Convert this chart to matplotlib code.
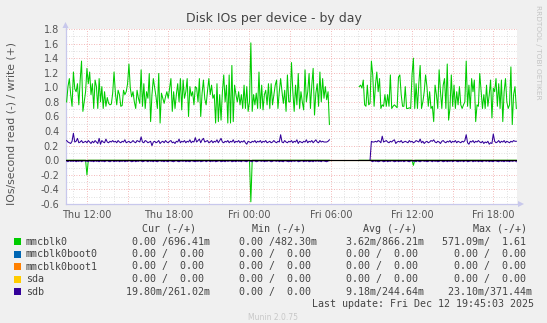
import numpy as np
import matplotlib
matplotlib.use("Agg")
import matplotlib.pyplot as plt
from matplotlib.patches import Polygon, Rectangle
from matplotlib.ticker import FixedLocator, FixedFormatter, MultipleLocator

nan = float("nan")

# ---------------- data ----------------
start_hour = 10.5      # Thu 10:30 (hours since Thu 00:00)
step_hours = 0.1       # 6-minute samples
last_update_hour = 43.75
span_hours = 100.0 / 3.0

tick_hours = [12, 15, 18, 21, 24, 27, 30, 33, 36, 39, 42]
tick_labels = ["Thu 12:00", "", "Thu 18:00", "", "Fri 00:00", "",
               "Fri 06:00", "", "Fri 12:00", "", "Fri 18:00"]

mmcblk0_write = [
    0.80, 1.01, 1.12, 0.90, 0.74,
    1.21, 0.98, 0.94, 1.05, 0.76, 1.10, 1.36, 0.67, 0.80, 0.94,
    1.26, 1.05, 1.21, 0.90, 1.05, 0.71, 1.10, 1.01, 0.71, 1.12,
    0.80, 1.01, 0.71, 0.94, 0.74, 0.86, 0.78, 0.76, 0.77, 0.92,
    1.21, 0.92, 0.76, 0.96, 0.90, 0.74, 0.75, 0.96, 0.90, 0.94,
    1.05, 1.32, 0.99, 0.87, 0.94, 0.80, 0.71, 0.96, 0.85, 0.78,
    1.24, 0.74, 1.05, 0.71, 0.94, 0.85, 1.19, 0.53, 0.90, 1.12,
    0.99, 0.87, 0.71, 1.19, 0.51, 0.92, 0.85, 0.78, 0.87, 0.94,
    0.85, 0.98, 1.12, 0.67, 0.94, 0.71, 0.90, 1.05, 0.80, 1.12,
    0.69, 1.10, 0.85, 0.94, 1.12, 0.60, 1.01, 0.88, 0.94, 0.76,
    1.01, 0.99, 0.80, 1.12, 0.60, 0.92, 1.10, 0.84, 0.76, 0.95,
    1.12, 0.90, 1.03, 0.85, 0.90, 0.51, 1.05, 0.53, 0.90, 0.55,
    0.94, 1.17, 0.80, 1.03, 0.51, 1.17, 0.51, 1.30, 0.53, 1.03,
    0.90, 0.80, 0.94, 0.76, 0.90, 0.71, 1.03, 0.71, 1.01, 0.67,
    0.80, 1.61, 0.67, 0.90, 0.76, 0.92, 0.71, 1.21, 0.71, 1.03,
    0.69, 0.90, 0.96, 0.76, 1.05, 0.71, 1.05, 0.76, 0.90, 1.03,
    1.10, 0.71, 0.94, 1.12, 0.94, 0.78, 0.96, 0.67, 1.17, 0.80,
    0.80, 1.34, 0.94, 0.67, 1.03, 0.76, 1.19, 0.71, 0.94, 0.80,
    0.69, 1.24, 0.80, 0.94, 1.19, 0.71, 1.03, 1.26, 0.62, 0.92,
    1.05, 0.74, 1.21, 0.80, 1.12, 0.85, 1.01, 0.83, 0.94, 0.49,
] + [nan] * 21 + [
    1.01, 1.03, 0.99, 1.10, 0.76, 0.74, 1.03, 0.76, 0.78,
    1.36, 1.17, 0.74, 1.03, 1.21, 0.94, 1.12, 0.71, 0.76, 0.74,
    0.90, 0.74, 0.90, 0.74, 1.17, 0.71, 0.74, 0.76, 0.74, 0.72,
    1.14, 1.17, 0.90, 0.74, 0.74, 1.01, 0.71, 0.71, 0.72, 0.71,
    1.17, 1.40, 0.71, 1.05, 0.71, 1.05, 1.30, 0.71, 0.80, 0.94,
    1.17, 1.01, 0.74, 0.94, 0.71, 0.74, 0.53, 1.03, 0.90, 0.71,
    1.24, 0.94, 0.71, 1.03, 1.12, 0.71, 1.32, 0.55, 0.71, 1.17,
    0.74, 1.03, 0.71, 0.94, 0.76, 1.01, 0.76, 0.71, 0.76, 0.80,
    1.36, 0.74, 1.03, 0.71, 1.12, 0.94, 1.10, 0.53, 0.76, 0.74,
    1.19, 0.94, 0.71, 0.90, 0.71, 1.03, 0.74, 0.90, 1.10, 0.58,
    0.99, 0.94, 1.12, 0.74, 1.05, 0.71, 1.10, 0.53, 0.94, 1.12,
    0.80, 0.71, 0.76, 1.28, 0.49, 0.90, 1.01, 0.71,
]

mmcblk0_read = ([0.0] * 15 + [-0.20] + [0.0] * 120 + [-0.57] + [0.0] * 58
                + [nan] * 21 + [0.0] * 40 + [-0.07] + [0.0] * 76)

sdb_write = [
    0.27, 0.25, 0.24, 0.23, 0.26,
    0.37, 0.25, 0.26, 0.30, 0.24, 0.25, 0.27, 0.24, 0.25, 0.26,
    0.24, 0.27, 0.25, 0.23, 0.26, 0.24, 0.27, 0.25, 0.23, 0.30,
    0.22, 0.27, 0.25, 0.24, 0.29, 0.25, 0.24, 0.26, 0.25, 0.27,
    0.25, 0.26, 0.24, 0.27, 0.25, 0.24, 0.26, 0.25, 0.28, 0.24,
    0.25, 0.26, 0.24, 0.25, 0.27, 0.25, 0.24, 0.27, 0.26, 0.25,
    0.32, 0.25, 0.24, 0.27, 0.26, 0.24, 0.25, 0.26, 0.20, 0.25,
    0.26, 0.24, 0.25, 0.27, 0.23, 0.25, 0.26, 0.24, 0.27, 0.25,
    0.24, 0.26, 0.27, 0.24, 0.25, 0.23, 0.26, 0.25, 0.29, 0.24,
    0.26, 0.25, 0.27, 0.24, 0.26, 0.25, 0.28, 0.24, 0.26, 0.25,
    0.31, 0.25, 0.27, 0.29, 0.24, 0.28, 0.30, 0.25, 0.26, 0.27,
    0.24, 0.25, 0.27, 0.24, 0.26, 0.25, 0.28, 0.24, 0.27, 0.30,
    0.25, 0.24, 0.26, 0.25, 0.27, 0.24, 0.26, 0.25, 0.28, 0.24,
    0.26, 0.25, 0.27, 0.24, 0.26, 0.25, 0.27, 0.24, 0.22, 0.26,
    0.25, 0.24, 0.26, 0.25, 0.27, 0.24, 0.26, 0.25, 0.27, 0.24,
    0.26, 0.25, 0.27, 0.24, 0.25, 0.26, 0.24, 0.25, 0.27, 0.25,
    0.24, 0.26, 0.25, 0.35, 0.25, 0.24, 0.27, 0.25, 0.24, 0.26,
    0.25, 0.27, 0.24, 0.26, 0.25, 0.28, 0.23, 0.26, 0.25, 0.24,
    0.26, 0.25, 0.28, 0.24, 0.26, 0.25, 0.27, 0.24, 0.26, 0.28,
    0.25, 0.24, 0.27, 0.25, 0.26, 0.25, 0.25, 0.25, 0.26, 0.28,
] + [nan] * 29 + [0.0] + [
    0.26, 0.25, 0.25, 0.26, 0.25, 0.27, 0.26, 0.24, 0.33, 0.25,
    0.26, 0.27, 0.25, 0.24, 0.26, 0.25, 0.27, 0.28, 0.23, 0.25,
    0.26, 0.25, 0.27, 0.24, 0.25, 0.26, 0.25, 0.24, 0.27, 0.25,
    0.26, 0.24, 0.25, 0.27, 0.26, 0.25, 0.29, 0.24, 0.26, 0.23,
    0.25, 0.26, 0.24, 0.25, 0.27, 0.26, 0.28, 0.25, 0.24, 0.26,
    0.25, 0.23, 0.26, 0.27, 0.25, 0.24, 0.26, 0.25, 0.27, 0.24,
    0.26, 0.25, 0.27, 0.24, 0.26, 0.25, 0.24, 0.26, 0.25, 0.27,
    0.35, 0.24, 0.22, 0.26, 0.25, 0.27, 0.24, 0.26, 0.25, 0.27,
    0.25, 0.24, 0.26, 0.23, 0.25, 0.24, 0.26, 0.22, 0.24, 0.23,
    0.36, 0.26, 0.24, 0.25, 0.27, 0.24, 0.26, 0.25, 0.27, 0.24,
    0.26, 0.25, 0.24, 0.26, 0.25, 0.27, 0.26, 0.26,
]

sdb_read = [
    -0.010, -0.020, -0.005, -0.015, -0.010,
    -0.015, -0.005, -0.020, -0.010, -0.015, -0.005, -0.020, -0.010, -0.005, -0.015,
    -0.010, -0.020, -0.005, -0.015, -0.010, -0.020, -0.005, -0.015, -0.010, -0.020,
    -0.005, -0.015, -0.010, -0.020, -0.010, -0.005, -0.015, -0.020, -0.010, -0.005,
    -0.020, -0.010, -0.015, -0.005, -0.020, -0.010, -0.015, -0.005, -0.020, -0.010,
    -0.015, -0.005, -0.010, -0.020, -0.015, -0.005, -0.020, -0.010, -0.015, -0.005,
    -0.010, -0.020, -0.015, -0.005, -0.010, -0.020, -0.005, -0.015, -0.010, -0.020,
    -0.005, -0.015, -0.020, -0.010, -0.005, -0.015, -0.010, -0.020, -0.005, -0.015,
    -0.020, -0.005, -0.010, -0.015, -0.020, -0.010, -0.005, -0.015, -0.020, -0.010,
    -0.010, -0.015, -0.005, -0.020, -0.010, -0.015, -0.020, -0.005, -0.010, -0.015,
    -0.020, -0.010, -0.015, -0.005, -0.020, -0.015, -0.010, -0.005, -0.020, -0.010,
    -0.005, -0.020, -0.010, -0.015, -0.005, -0.020, -0.015, -0.010, -0.005, -0.020,
    -0.015, -0.010, -0.020, -0.005, -0.015, -0.010, -0.005, -0.020, -0.015, -0.010,
    -0.020, -0.005, -0.015, -0.010, -0.020, -0.005, -0.010, -0.015, -0.020, -0.005,
    -0.010, -0.015, -0.020, -0.005, -0.010, -0.020, -0.015, -0.005, -0.010, -0.015,
    -0.005, -0.020, -0.010, -0.015, -0.005, -0.010, -0.020, -0.015, -0.005, -0.010,
    -0.015, -0.005, -0.020, -0.010, -0.015, -0.020, -0.005, -0.010, -0.015, -0.020,
    -0.010, -0.020, -0.005, -0.015, -0.010, -0.005, -0.020, -0.015, -0.010, -0.005,
    -0.020, -0.010, -0.015, -0.005, -0.020, -0.015, -0.010, -0.020, -0.005, -0.015,
    -0.005, -0.015, -0.010, -0.020, -0.005, -0.010, -0.015, -0.020, -0.010, -0.005,
] + [nan] * 29 + [0.0] + [
    -0.010, -0.020, -0.005, -0.015, -0.010, -0.020, -0.015, -0.005, -0.010, -0.020,
    -0.015, -0.005, -0.020, -0.010, -0.015, -0.005, -0.010, -0.020, -0.015, -0.005,
    -0.020, -0.010, -0.015, -0.005, -0.020, -0.010, -0.005, -0.015, -0.020, -0.010,
    -0.005, -0.015, -0.010, -0.020, -0.005, -0.015, -0.020, -0.010, -0.005, -0.015,
    -0.010, -0.020, -0.015, -0.005, -0.010, -0.020, -0.005, -0.015, -0.010, -0.020,
    -0.015, -0.005, -0.010, -0.020, -0.015, -0.005, -0.020, -0.010, -0.015, -0.005,
    -0.020, -0.010, -0.005, -0.015, -0.020, -0.010, -0.015, -0.005, -0.020, -0.010,
    -0.005, -0.020, -0.015, -0.010, -0.005, -0.020, -0.010, -0.015, -0.005, -0.020,
    -0.010, -0.015, -0.020, -0.005, -0.010, -0.015, -0.005, -0.020, -0.010, -0.015,
    -0.020, -0.005, -0.010, -0.015, -0.020, -0.005, -0.015, -0.010, -0.020, -0.005,
    -0.015, -0.010, -0.020, -0.005, -0.015, -0.010, -0.005, -0.020,
]

n_samples = len(mmcblk0_write)
zero_series = [0.0] * n_samples   # mmcblk0boot0 / mmcblk0boot1 / sda are flat at 0

device_names = ["mmcblk0", "mmcblk0boot0", "mmcblk0boot1", "sda", "sdb"]
device_colors = ["#00CC00", "#0066B3", "#FF8000", "#FFCC00", "#330099"]

cur_text = ["  0.00 /696.41m", "  0.00 /  0.00", "  0.00 /  0.00", "  0.00 /  0.00", " 19.80m/261.02m"]
min_text = ["  0.00 /482.30m", "  0.00 /  0.00", "  0.00 /  0.00", "  0.00 /  0.00", "  0.00 /  0.00"]
avg_text = ["  3.62m/866.21m", "  0.00 /  0.00", "  0.00 /  0.00", "  0.00 /  0.00", "  9.18m/244.64m"]
max_text = ["571.09m/  1.61", "  0.00 /  0.00", "  0.00 /  0.00", "  0.00 /  0.00", " 23.10m/371.44m"]

# ---------------- figure ----------------
W, H = 547, 323
fig = plt.figure(figsize=(W / 100, H / 100), dpi=100, facecolor="#F0F0F0")


def fx(x):
    return x / W


def fy(y):
    return 1 - y / H


ax_l, ax_r, ax_t, ax_b = 65.5, 517.0, 29.0, 204.0
ax = fig.add_axes([fx(ax_l), fy(ax_b), (ax_r - ax_l) / W, (ax_b - ax_t) / H])
ax.set_facecolor("white")

times = start_hour + step_hours * np.arange(n_samples)

ax.set_xlim(last_update_hour - span_hours, last_update_hour)
ax.set_ylim(-0.6, 1.8)

lw = 0.75
series = [
    (mmcblk0_write, mmcblk0_read, device_colors[0]),
    (zero_series, zero_series, device_colors[1]),
    (zero_series, zero_series, device_colors[2]),
    (zero_series, zero_series, device_colors[3]),
    (sdb_write, sdb_read, device_colors[4]),
]
for k, (w, r, c) in enumerate(series):
    ax.plot(times, np.array(r, dtype=float), color=c, lw=lw, zorder=3 + k * 0.1)
    ax.plot(times, np.array(w, dtype=float), color=c, lw=lw, zorder=3 + k * 0.1)

ax.axhline(0, color="black", lw=0.8, zorder=4)

# grid
ax.xaxis.set_major_locator(FixedLocator(tick_hours))
ax.xaxis.set_major_formatter(FixedFormatter(tick_labels))
ax.xaxis.set_minor_locator(MultipleLocator(1))
ax.yaxis.set_major_locator(MultipleLocator(0.2))
ax.yaxis.set_minor_locator(MultipleLocator(0.1))
ax.yaxis.set_major_formatter(matplotlib.ticker.FuncFormatter(lambda v, p: f"{v:.1f}"))

dot = (0, (1, 2))
ax.grid(which="major", color="#F0A0A0", lw=0.6, linestyle=dot)
ax.grid(which="minor", color="#D6D6D6", lw=0.6, linestyle=dot)
ax.set_axisbelow(True)

ax.tick_params(which="both", length=0)
ax.tick_params(axis="y", which="major", pad=4.5, labelsize=7, labelcolor="#555555")
ax.tick_params(axis="x", which="major", pad=4.0, labelsize=7, labelcolor="#555555")

for s in ["top", "right"]:
    ax.spines[s].set_visible(False)
axis_col = "#C8C8EC"
for s in ["left", "bottom"]:
    ax.spines[s].set_color(axis_col)
    ax.spines[s].set_linewidth(0.9)

# axis arrows
fig.patches.append(Polygon([(fx(ax_l - 3), fy(ax_t - 1)), (fx(ax_l + 3), fy(ax_t - 1)), (fx(ax_l), fy(ax_t - 7))],
                           closed=True, transform=fig.transFigure, facecolor=axis_col, edgecolor="none"))
fig.lines.append(plt.Line2D([fx(ax_l), fx(ax_l)], [fy(ax_t), fy(ax_t - 2)], transform=fig.transFigure,
                            color=axis_col, lw=0.9))
fig.patches.append(Polygon([(fx(ax_r + 1), fy(ax_b - 3)), (fx(ax_r + 1), fy(ax_b + 3)), (fx(ax_r + 7), fy(ax_b))],
                           closed=True, transform=fig.transFigure, facecolor=axis_col, edgecolor="none"))

# titles / labels
fig.text(fx(273.5), fy(18.5), "Disk IOs per device - by day", ha="center", va="center",
         fontsize=9, color="#444444")
fig.text(fx(11.5), fy(123.5), "IOs/second read (-) / write (+)", ha="center", va="center",
         rotation=90, fontsize=7.8, color="#555555")
fig.text(fx(538), fy(5), "RRDTOOL / TOBI OETIKER", ha="center", va="top", rotation=270,
         fontsize=5.3, color="#C4C4C4")

# legend
mono = "DejaVu Sans Mono"
lfs = 7.2
lcol = "#444444"
header_y = 228.6
fig.text(fx(142), fy(header_y), "Cur (-/+)", family=mono, fontsize=lfs, color=lcol, va="center")
fig.text(fx(252), fy(header_y), "Min (-/+)", family=mono, fontsize=lfs, color=lcol, va="center")
fig.text(fx(363), fy(header_y), "Avg (-/+)", family=mono, fontsize=lfs, color=lcol, va="center")
fig.text(fx(473), fy(header_y), "Max (-/+)", family=mono, fontsize=lfs, color=lcol, va="center")

row_y = [241.9, 254.2, 266.5, 279.0, 291.6]
for i, name in enumerate(device_names):
    y = row_y[i]
    fig.patches.append(Rectangle((fx(14), fy(y + 3.5)), 7 / W, 7 / H, transform=fig.transFigure,
                                 facecolor=device_colors[i], edgecolor="none"))
    fig.text(fx(26), fy(y), name, family=mono, fontsize=lfs, color=lcol, va="center")
    fig.text(fx(120.0), fy(y), cur_text[i], family=mono, fontsize=lfs, color=lcol, va="center")
    fig.text(fx(227.0), fy(y), min_text[i], family=mono, fontsize=lfs, color=lcol, va="center")
    fig.text(fx(334.5), fy(y), avg_text[i], family=mono, fontsize=lfs, color=lcol, va="center")
    fig.text(fx(441.5), fy(y), max_text[i], family=mono, fontsize=lfs, color=lcol, va="center")

fig.text(fx(311.6), fy(304), "Last update: Fri Dec 12 19:45:03 2025", family=mono, fontsize=lfs,
         color=lcol, va="center", ha="left")
fig.text(fx(273), fy(317), "Munin 2.0.75", fontsize=5.5, color="#C8C8C8", va="center", ha="center")

fig.savefig("out.png", dpi=100, facecolor=fig.get_facecolor())
